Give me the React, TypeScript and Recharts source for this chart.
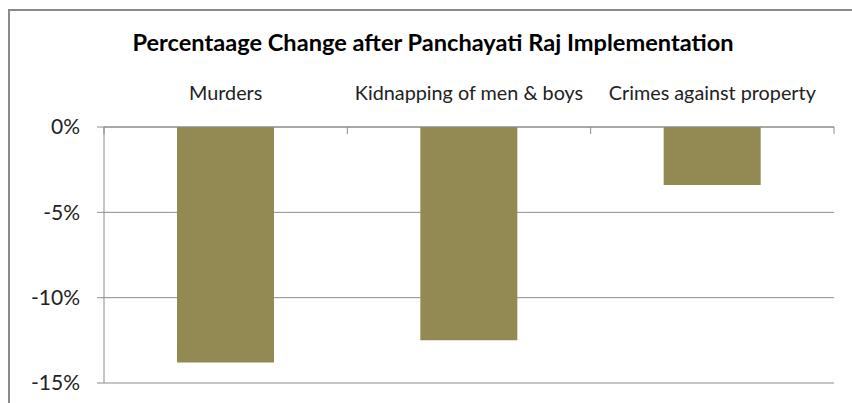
import React from "react";
import {
  Bar,
  BarChart,
  CartesianGrid,
  XAxis,
  YAxis,
} from "recharts";

// Values (fraction of change)
const categories = ["Murders", "Kidnapping of men & boys", "Crimes against property"];
const changes = [-0.138, -0.125, -0.034];
const yTicks = [0, -0.05, -0.1, -0.15];

const data = categories.map((name, i) => ({ name, change: changes[i] }));

const FONT = "Lato, 'Open Sans', sans-serif";
const GRID = "#8c8c8c";

const pct = (v: number) => `${Math.round(v * 100)}%`;

const CategoryTick = (props: any) => {
  const { x, y, payload, index, width } = props;
  const band = (width || 730) / categories.length;
  const axisY = y + 8;
  return (
    <g>
      <line x1={x - band / 2} x2={x - band / 2} y1={axisY} y2={axisY + 7} stroke={GRID} />
      {index === categories.length - 1 && (
        <line x1={x + band / 2} x2={x + band / 2} y1={axisY} y2={axisY + 7} stroke={GRID} />
      )}
      <text x={x} y={axisY - 27} textAnchor="middle" fontSize={19.8} fill="#222" fontFamily={FONT}>
        {payload.value}
      </text>
    </g>
  );
};

const App: React.FC = () => {
  return (
    <div style={{ position: "fixed", left: 0, top: 0, width: 852, height: 403, overflow: "hidden", background: "#fff" }}>
      <div
        style={{
          position: "absolute",
          left: 8,
          top: 9,
          width: 900,
          height: 500,
          borderLeft: "2px solid #8a8a8a",
          borderTop: "2px solid #8a8a8a",
        }}
      />
      <div
        style={{
          position: "absolute",
          left: 0,
          width: 866,
          top: 27,
          textAlign: "center",
          fontFamily: FONT,
          fontWeight: 700,
          fontSize: 23.6,
          lineHeight: "30px",
          color: "#000",
        }}
      >
        Percentaage Change after Panchayati Raj Implementation
      </div>
      <div style={{ position: "absolute", left: 0, top: 0 }}>
        <BarChart
          width={852}
          height={403}
          data={data}
          margin={{ top: 87, right: 18, bottom: 20, left: 8 }}
          barCategoryGap="30%"
        >
          <CartesianGrid vertical={false} stroke={GRID} strokeWidth={1} />
          <XAxis
            dataKey="name"
            orientation="top"
            height={40}
            axisLine={{ stroke: GRID }}
            tickLine={false}
            tick={<CategoryTick />}
            interval={0}
          />
          <YAxis
            type="number"
            domain={[-0.15, 0]}
            ticks={yTicks}
            tickFormatter={pct}
            width={96}
            tickSize={7}
            tickMargin={17}
            axisLine={{ stroke: GRID }}
            tickLine={{ stroke: GRID }}
            tick={{ fontSize: 21, fill: "#222", fontFamily: FONT }}
            allowDataOverflow
          />
          <Bar dataKey="change" fill="#938953" isAnimationActive={false} />
        </BarChart>
      </div>
    </div>
  );
};

export default App;
